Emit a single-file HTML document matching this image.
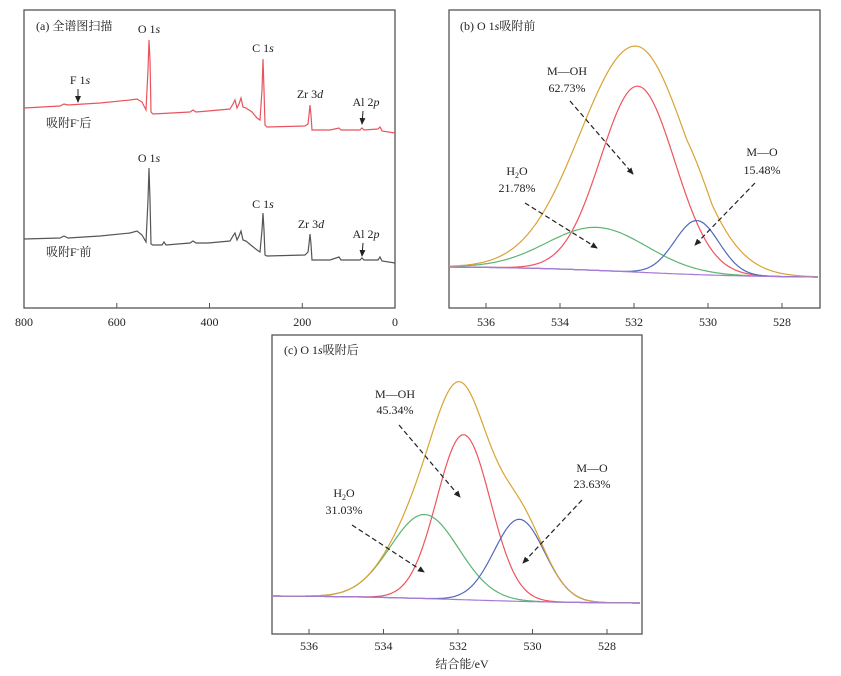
<!DOCTYPE html>
<html><head><meta charset="utf-8"><style>
html,body{margin:0;padding:0;background:#fff;}
svg{display:block;}
text{font-family:"Liberation Serif","Noto Serif CJK SC",serif;font-size:12px;fill:#222;}
</style></head><body>
<svg id="s" width="841" height="676" viewBox="0 0 841 676" xmlns="http://www.w3.org/2000/svg">
<defs><marker id="ah" markerWidth="8" markerHeight="8" refX="6" refY="3" orient="auto" markerUnits="userSpaceOnUse"><path d="M0,0 L7,3 L0,6 z" fill="#222"/></marker></defs>
<g fill="none" stroke="#555" stroke-width="1.3">
<rect x="24" y="10" width="371" height="298"/>
<rect x="449" y="10" width="371" height="298"/>
<rect x="272" y="335" width="370" height="299"/>
</g>
<g stroke="#555" stroke-width="1">
<line x1="116.8" y1="308" x2="116.8" y2="303"/><line x1="209.5" y1="308" x2="209.5" y2="303"/><line x1="302.3" y1="308" x2="302.3" y2="303"/>
<line x1="486" y1="308" x2="486" y2="303"/><line x1="560" y1="308" x2="560" y2="303"/><line x1="634" y1="308" x2="634" y2="303"/><line x1="708" y1="308" x2="708" y2="303"/><line x1="782" y1="308" x2="782" y2="303"/>
<line x1="309" y1="634" x2="309" y2="629"/><line x1="383.5" y1="634" x2="383.5" y2="629"/><line x1="458" y1="634" x2="458" y2="629"/><line x1="532.5" y1="634" x2="532.5" y2="629"/><line x1="607" y1="634" x2="607" y2="629"/>
</g>
<g text-anchor="middle">
<text x="24" y="326">800</text><text x="116.8" y="326">600</text><text x="209.5" y="326">400</text><text x="302.3" y="326">200</text><text x="395" y="326">0</text>
<text x="486" y="326">536</text><text x="560" y="326">534</text><text x="634" y="326">532</text><text x="708" y="326">530</text><text x="782" y="326">528</text>
<text x="309" y="650">536</text><text x="383.5" y="650">534</text><text x="458" y="650">532</text><text x="532.5" y="650">530</text><text x="607" y="650">528</text>
<text x="462" y="668" font-size="13">结合能/eV</text>
</g>
<polyline fill="none" stroke="#e8545e" stroke-width="1.2" points="24,108 60,106 64,104 68,105 100,103 130,100 137,99 142,102 146,110 148,70 149,40 150,60 151,112 153,114 190,112 193,110 196,112 208,111 230,109 233,104 235,100 237,108 239,104 241,98 243,107 246,108 252,112 257,118 260,120 262,90 263,59 264,90 265,125 267,127 305,126 308,124 309,115 310,105 311,115 312,130 330,130 339,128 341,130 360,130 362,128 364,130 378,129 380,127 382,131 395,133"/>
<polyline fill="none" stroke="#555" stroke-width="1.2" points="24,239 60,238 64,236 68,238 100,236 130,233 137,231 142,235 146,242 148,200 149,168 150,200 151,244 153,245 162,245 164,242 166,245 190,243 193,241 196,243 208,243 230,241 233,236 235,233 237,240 239,236 241,231 243,240 246,241 252,246 257,250 260,252 262,230 263,213 264,230 265,255 267,256 305,255 308,252 309,244 310,234 311,244 312,260 330,260 339,257 341,260 360,260 362,258 364,260 378,260 380,257 382,261 395,263"/>
<g id="curves"></g>
<text x="36" y="30">(a) 全谱图扫描</text>
<text x="149" y="33" text-anchor="middle">O 1<tspan font-style="italic">s</tspan></text>
<text x="263" y="52" text-anchor="middle">C 1<tspan font-style="italic">s</tspan></text>
<text x="80" y="84" text-anchor="middle">F 1<tspan font-style="italic">s</tspan></text>
<text x="310" y="98" text-anchor="middle">Zr 3<tspan font-style="italic">d</tspan></text>
<text x="366" y="106" text-anchor="middle">Al 2<tspan font-style="italic">p</tspan></text>
<text x="46" y="127">吸附F<tspan font-size="8" dy="-4">-</tspan><tspan dy="4">后</tspan></text>
<text x="149" y="162" text-anchor="middle">O 1<tspan font-style="italic">s</tspan></text>
<text x="263" y="208" text-anchor="middle">C 1<tspan font-style="italic">s</tspan></text>
<text x="311" y="228" text-anchor="middle">Zr 3<tspan font-style="italic">d</tspan></text>
<text x="366" y="238" text-anchor="middle">Al 2<tspan font-style="italic">p</tspan></text>
<text x="46" y="256">吸附F<tspan font-size="8" dy="-4">-</tspan><tspan dy="4">前</tspan></text>
<g stroke="#222" stroke-width="1" marker-end="url(#ah)">
<line x1="78" y1="89" x2="78" y2="102"/>
<line x1="363" y1="111" x2="362" y2="124"/>
<line x1="363" y1="243" x2="362" y2="256"/>
</g>
<text x="460" y="30">(b) O 1<tspan font-style="italic">s</tspan>吸附前</text>
<g text-anchor="middle">
<text x="567" y="75">M—OH</text><text x="567" y="92">62.73%</text>
<text x="517" y="175">H<tspan font-size="8" dy="3">2</tspan><tspan dy="-3">O</tspan></text><text x="517" y="192">21.78%</text>
<text x="762" y="156">M—O</text><text x="762" y="174">15.48%</text>
<text x="395" y="398">M—OH</text><text x="395" y="414">45.34%</text>
<text x="344" y="497">H<tspan font-size="8" dy="3">2</tspan><tspan dy="-3">O</tspan></text><text x="344" y="514">31.03%</text>
<text x="592" y="472">M—O</text><text x="592" y="488">23.63%</text>
</g>
<text x="284" y="354">(c) O 1<tspan font-style="italic">s</tspan>吸附后</text>
<g stroke="#222" stroke-width="1.2" stroke-dasharray="5,3" marker-end="url(#ah)">
<line x1="570" y1="101" x2="633" y2="174"/>
<line x1="525" y1="203" x2="597" y2="248"/>
<line x1="755" y1="183" x2="695" y2="245"/>
<line x1="399" y1="425" x2="460" y2="497"/>
<line x1="352" y1="525" x2="424" y2="572"/>
<line x1="582" y1="500" x2="523" y2="563"/>
</g>
</svg>
<script>
function mk(x0,x1,E0,ppe,bgL,bgR,peaks,env){
  var cols=['#f0535e','#5bb56f','#5268b8','#d9a335','#a67ad6'];
  var g=document.getElementById('curves'),paths=[[],[],[],[],[]];
  for(var x=x0;x<=x1;x+=1){
    var E=E0-(x-x0)/ppe;
    var t=(x-x0)/(x1-x0);
    var bg=bgL+(bgR-bgL)*(1/(1+Math.exp(-(t-0.5)*6))-0.047)/0.906;
    var sum=0;
    for(var i=0;i<3;i++){var p=peaks[i];var v=p[1]*Math.exp(-Math.pow(E-p[0],2)/(2*p[2]*p[2]));sum+=v;paths[i].push(x+','+(bg-v).toFixed(1));}
    if(env){var s=E>env[0]?env[2]:env[3];var ev=env[1]*Math.exp(-Math.pow(E-env[0],2)/(2*s*s));sum=Math.max(sum,ev);}
    paths[3].push(x+','+(bg-sum).toFixed(1));paths[4].push(x+','+bg.toFixed(1));
  }
  for(var i=0;i<5;i++){var pl=document.createElementNS('http://www.w3.org/2000/svg','polyline');pl.setAttribute('points',paths[i].join(' '));pl.setAttribute('fill','none');pl.setAttribute('stroke',cols[i]);pl.setAttribute('stroke-width','1.2');g.appendChild(pl);}
}
mk(449,818,537,37,267,277,[[531.9,186,1.0],[533.0,43,1.35],[530.3,54,0.6]],[531.95,226,1.5,1.35]);
mk(272,640,537,37.2,596,603,[[531.85,165,0.72],[532.9,84,0.92],[530.35,82,0.68]],null);
</script>
</body></html>
